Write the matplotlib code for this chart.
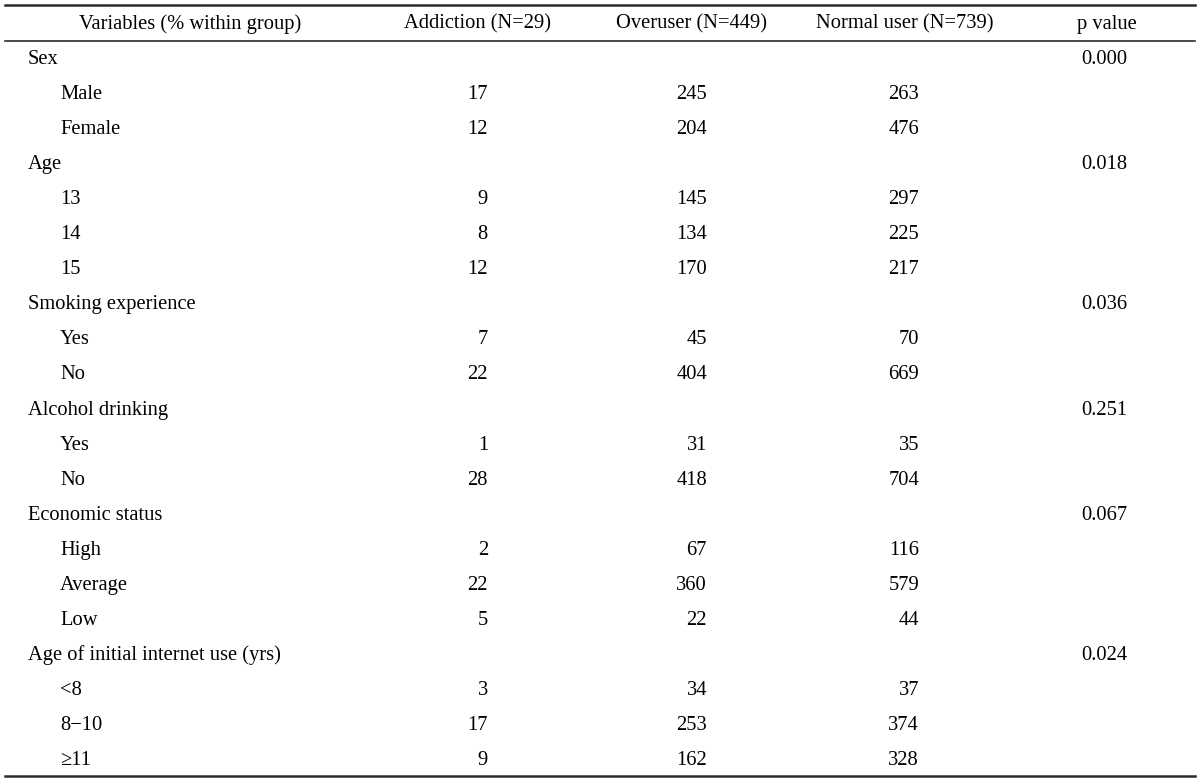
import matplotlib
matplotlib.use("Agg")
import matplotlib.pyplot as plt

headers = ["Variables (% within group)", "Addiction (N=29)", "Overuser (N=449)",
           "Normal user (N=739)", "p value"]

groups = ["Sex", "Age", "Smoking experience", "Alcohol drinking",
          "Economic status", "Age of initial internet use (yrs)"]
p_values = ["0.000", "0.018", "0.036", "0.251", "0.067", "0.024"]
items = [
    ["Male", "Female"],
    ["13", "14", "15"],
    ["Yes", "No"],
    ["Yes", "No"],
    ["High", "Average", "Low"],
    ["<8", "8\u221210", "\u226511"],
]
addiction = [[17, 12], [9, 8, 12], [7, 22], [1, 28], [2, 22, 5], [3, 17, 9]]
overuser = [[245, 204], [145, 134, 170], [45, 404], [31, 418], [67, 360, 22], [34, 253, 162]]
normal = [[263, 476], [297, 225, 217], [70, 669], [35, 704], [116, 579, 44], [37, 374, 328]]

plt.rcParams['font.family'] = ['Liberation Serif', 'DejaVu Serif']
fs = 14.8

fig = plt.figure(figsize=(12, 7.81), dpi=100)
ax = fig.add_axes([0, 0, 1, 1])
ax.set_xlim(0, 1200)
ax.set_ylim(781, 0)
ax.axis('off')

# rules
ax.plot([5, 1195], [5, 5], color='#2a2a2a', lw=1.8)
ax.plot([5, 1195], [41, 41], color='#2a2a2a', lw=1.2)
ax.plot([5, 1195], [776, 776], color='#2a2a2a', lw=1.8)

head_x = [190, 478, 691, 905, 1107]
for x, h in zip(head_x, headers):
    ax.text(x, 24, h, fontsize=fs, ha='center', va='center')

col_right = [488, 707, 919]
y = 59.5
step = 35.05
for g, name in enumerate(groups):
    ax.text(28, y, name, fontsize=fs, ha='left', va='center')
    ax.text(1104, y, p_values[g], fontsize=fs, ha='center', va='center')
    y += step
    for i, lab in enumerate(items[g]):
        ax.text(60, y, lab, fontsize=fs, ha='left', va='center')
        vals = [addiction[g][i], overuser[g][i], normal[g][i]]
        for x, v in zip(col_right, vals):
            ax.text(x, y, str(v), fontsize=fs, ha='right', va='center')
        y += step

fig.savefig("out.png", dpi=100)
